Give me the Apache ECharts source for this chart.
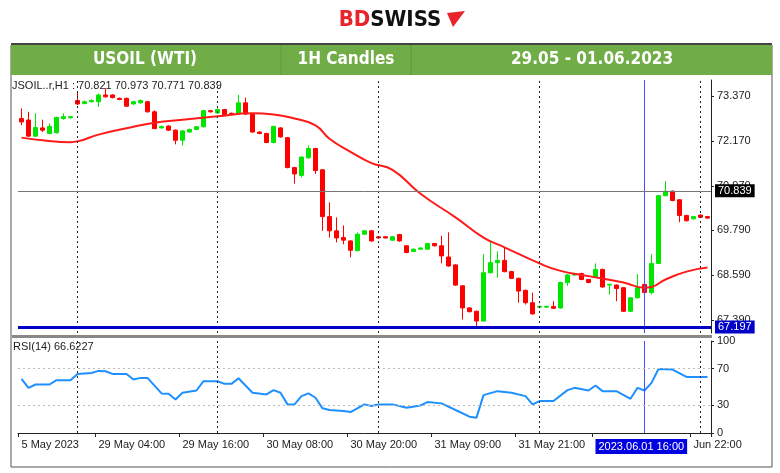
<!DOCTYPE html>
<html>
<head>
<meta charset="utf-8">
<script src="https://cdn.jsdelivr.net/npm/echarts@6/dist/echarts.min.js"></script>
<style>
  html, body { margin: 0; padding: 0; background: #fff; }
  #chart { width: 780px; height: 473px; }
</style>
</head>
<body>
<div id="chart"></div>
<script>
// USOIL H1 candles, 29.05 - 01.06.2023
const opens  = [72.77,72.73,72.30,72.52,72.37,72.39,72.77,72.79,73.25,73.17,73.22,73.22,73.40,73.40,73.31,73.31,73.16,73.19,73.22,72.95,
  72.52,72.57,72.46,72.19,72.41,72.48,72.55,72.98,72.92,73.01,72.91,72.91,73.19,72.89,72.41,72.37,72.13,72.52,72.26,71.46,
  71.25,71.72,71.97,71.40,70.15,69.77,69.59,69.50,69.24,69.68,69.77,69.61,69.61,69.52,69.67,69.37,69.22,69.28,69.28,69.43,
  69.37,69.07,68.86,68.30,67.71,67.62,67.36,68.65,68.92,68.98,68.68,68.50,68.18,67.85,67.73,67.73,67.75,67.71,68.39,68.59,
  68.63,68.47,68.54,68.74,68.32,68.32,68.25,67.62,67.98,68.34,68.12,68.90,70.71,70.83,70.60,70.18,70.09,70.19,70.15];
const closes = [72.68,72.30,72.53,72.46,72.56,72.80,72.82,72.82,73.16,73.22,73.25,73.40,73.35,73.33,73.28,73.10,73.22,73.25,72.95,72.50,
  72.56,72.46,72.19,72.44,72.48,72.55,72.98,72.95,73.01,72.87,72.88,73.19,72.89,72.41,72.37,72.13,72.56,72.28,71.46,71.29,
  71.74,71.97,71.38,70.15,69.77,69.58,69.52,69.25,69.68,69.77,69.50,69.58,69.58,69.61,69.50,69.19,69.28,69.31,69.43,69.37,
  69.10,68.83,68.32,67.71,67.61,67.36,68.65,68.92,68.98,68.68,68.50,68.16,67.85,67.55,67.75,67.75,67.70,68.39,68.59,68.63,
  68.47,68.39,68.74,68.27,68.34,68.23,67.62,67.98,68.25,68.12,68.90,70.71,70.83,70.58,70.18,70.04,70.15,70.13,70.11];
const lows   = [72.59,72.28,72.28,72.41,72.35,72.37,72.74,72.77,73.13,73.15,73.20,73.08,73.33,73.31,73.26,73.08,73.14,73.17,72.93,72.50,
  72.50,72.44,72.08,72.05,72.39,72.46,72.53,72.93,72.90,72.85,72.86,72.89,72.87,72.39,72.35,72.11,72.11,72.26,71.44,71.03,
  71.20,71.70,71.29,69.77,69.59,69.46,69.41,69.06,69.22,69.66,69.48,69.56,69.56,69.50,69.48,69.17,69.20,69.26,69.26,69.35,
  68.90,68.81,68.30,67.40,67.59,67.18,67.34,68.63,68.52,68.66,68.48,67.85,67.80,67.53,67.71,67.71,67.68,67.69,68.30,68.57,
  68.45,68.37,68.52,68.25,68.07,67.89,67.60,67.60,67.96,68.10,68.07,68.88,70.69,70.56,70.00,70.02,70.07,70.11,70.09];
const highs  = [73.04,72.95,72.91,72.74,72.64,72.82,72.91,72.84,73.49,73.25,73.28,73.44,73.58,73.42,73.33,73.33,73.24,73.28,73.24,72.99,
  72.58,72.59,72.48,72.46,72.50,72.57,73.00,73.00,73.04,73.03,72.93,73.40,73.33,72.91,72.43,72.39,72.58,72.54,72.28,71.48,
  71.76,72.05,71.99,71.42,70.53,70.13,69.91,69.52,69.73,69.79,69.79,69.63,69.63,69.63,69.69,69.39,69.30,69.33,69.45,69.45,
  69.64,69.73,68.88,68.32,67.73,67.64,69.15,69.50,69.22,69.33,68.70,68.52,68.20,68.12,67.77,67.77,67.89,68.41,68.61,68.65,
  68.65,68.49,68.90,68.76,68.36,68.34,68.27,68.00,68.61,68.36,69.15,70.73,71.10,70.85,70.62,70.20,70.17,70.21,70.17];

// moving average (red line): [candle index, price]
const maIdx = [0,3,7,8,11,16,19,23,28,33,36,39,42,44,47,50,53,57,62,66,69,74,77,81,86,89,90,92,95,98];
const maVal = [72.26,72.19,72.14,72.16,72.34,72.55,72.66,72.74,72.83,72.91,72.88,72.77,72.59,72.23,71.88,71.58,71.40,70.76,70.13,69.59,
  69.33,68.90,68.70,68.56,68.39,68.25,68.27,68.47,68.68,68.79];

// RSI(14): [candle index, value]
const rsiIdx = [0,1,2,4,5,7,8,10,11,12,13,15,16,17,18,20,21,22,23,25,26,28,29,30,31,33,35,36,37,38,39,40,41,42,43,44,46,47,49,50,
  51,53,55,57,58,60,62,64,65,66,68,70,72,73,74,76,78,79,81,82,83,85,87,88,89,90,91,93,95,97,98];
const rsiVal = [58.8,49,52.7,52.7,57.4,57.4,64.2,65.3,67.5,67.1,64.2,64.2,58.1,59.9,59.9,43,42.6,36.5,43.7,46.2,56.3,56.3,53.4,53.4,59.5,
  43.7,41.9,46.6,43.7,31.1,31.1,40.1,43,38.3,26.8,25,23.9,22.8,31.1,29.3,31.1,31.1,27.5,30,33.6,32.2,25,17.7,16.7,41.2,45.5,43.7,
  40.1,31.1,34.7,34.7,46.6,49.1,46.2,51.6,45.5,45.5,37.2,49.1,46.2,54.5,69.6,69,61,61,61];

const xLabels = {0: '5 May 2023', 11: '29 May 04:00', 23: '29 May 16:00', 35: '30 May 08:00', 47: '30 May 20:00',
  59: '31 May 09:00', 71: '31 May 21:00', 82: '{hl|2023.06.01 16:00}', 96: 'Jun 22:00'};
const dayLines = ['8', '28', '51', '74', '97'];
const cursorIdx = '89';
const priceTicks = [67.39, 68.59, 69.79, 70.97, 72.17, 73.37];
const rsiTicks = [0, 30, 70, 100];
const lastPrice = 70.839;
const lowLevel = 67.197;

const cats = opens.map((_, i) => String(i));
const candles = opens.map((o, i) => [o, closes[i], lows[i], highs[i]]);

const chart = echarts.init(document.getElementById('chart'));
const font = 'Liberation Sans, Arial, sans-serif';
const narrow = 'DejaVu Sans Condensed, Liberation Sans, Arial, sans-serif';

const vLines = dayLines.map(v => ({xAxis: v, lineStyle: {color: '#222', type: [2, 3], width: 1}}))
  .concat([{xAxis: cursorIdx, lineStyle: {color: '#4b4bff', type: 'solid', width: 1}}]);

const option = {
  animation: false,
  textStyle: {fontFamily: font},
  graphic: [
    {type: 'rect', shape: {x: 11, y: 45, width: 761, height: 422}, style: {fill: 'none', stroke: '#555', lineWidth: 1}, z: 0},
    {type: 'rect', shape: {x: 11, y: 44, width: 761, height: 31}, style: {fill: '#70ad47'}, z: 1},
    {type: 'rect', shape: {x: 11, y: 43, width: 761, height: 2}, style: {fill: '#444'}, z: 2},
    {type: 'line', shape: {x1: 281, y1: 45, x2: 281, y2: 75}, style: {stroke: '#5d9a3a', lineWidth: 1}, z: 2},
    {type: 'line', shape: {x1: 411, y1: 45, x2: 411, y2: 75}, style: {stroke: '#5d9a3a', lineWidth: 1}, z: 2},
    {type: 'text', x: 145, y: 60, style: {text: 'USOIL (WTI)', fill: '#fff', font: 'bold 17px ' + narrow, align: 'center', verticalAlign: 'middle'}, z: 3},
    {type: 'text', x: 346, y: 60, style: {text: '1H Candles', fill: '#fff', font: 'bold 17px ' + narrow, align: 'center', verticalAlign: 'middle'}, z: 3},
    {type: 'text', x: 592, y: 60, style: {text: '29.05 - 01.06.2023', fill: '#fff', font: 'bold 17px ' + narrow, align: 'center', verticalAlign: 'middle'}, z: 3},
    {type: 'text', x: 390, y: 20, style: {
      text: '{r|BD}{k|SWISS}', align: 'center', verticalAlign: 'middle',
      rich: {r: {fill: '#e8232a', font: 'bold 22px ' + narrow}, k: {fill: '#111', font: 'bold 22px ' + narrow}}}, z: 3},
    {type: 'polygon', shape: {points: [[447, 13], [465, 11], [453, 27]]}, style: {fill: '#e8232a'}, z: 3},
    {type: 'text', x: 12, y: 86, style: {text: 'JSOIL..r,H1 : 70.821 70.973 70.771 70.839', fill: '#222', font: '11px ' + font, verticalAlign: 'middle'}, z: 5},
    {type: 'text', x: 13, y: 347, style: {text: 'RSI(14) 66.6227', fill: '#222', font: '11px ' + font, verticalAlign: 'middle'}, z: 5},
    {type: 'rect', shape: {x: 12, y: 335, width: 700, height: 3}, style: {fill: '#888'}, z: 5}
  ],
  grid: [
    {left: 18, right: 69, top: 80, height: 253},
    {left: 18, right: 69, top: 341, height: 92}
  ],
  xAxis: [
    {type: 'category', gridIndex: 0, data: cats, axisLine: {show: false}, axisTick: {show: false}, axisLabel: {show: false}},
    {type: 'category', gridIndex: 1, data: cats,
      axisLine: {show: true, lineStyle: {color: '#222'}},
      axisTick: {show: true, interval: i => xLabels[i] !== undefined, length: 4, lineStyle: {color: '#222'}},
      axisLabel: {interval: 0, align: 'left', margin: 6, fontSize: 11, color: '#222',
        formatter: (v, i) => xLabels[i] || '',
        rich: {hl: {backgroundColor: '#0000e0', color: '#fff', fontSize: 11, padding: [2, 3]}}}}
  ],
  yAxis: [
    {type: 'value', gridIndex: 0, position: 'right', min: 67.04, max: 73.80, scale: true,
      axisLine: {show: true, lineStyle: {color: '#222'}},
      axisTick: {show: true, customValues: priceTicks, length: 3, lineStyle: {color: '#222'}},
      axisLabel: {customValues: priceTicks, formatter: v => v.toFixed(3), fontSize: 11, color: '#222', margin: 6},
      splitLine: {show: false}},
    {type: 'value', gridIndex: 1, position: 'right', min: 0, max: 100,
      axisLine: {show: true, lineStyle: {color: '#222'}},
      axisTick: {show: true, customValues: rsiTicks, length: 3, lineStyle: {color: '#222'}},
      axisLabel: {customValues: rsiTicks, fontSize: 11, color: '#222', margin: 6},
      splitLine: {show: false}}
  ],
  series: [
    {type: 'candlestick', xAxisIndex: 0, yAxisIndex: 0, data: candles, barWidth: 5,
      itemStyle: {color: '#00e600', color0: '#ff0000', borderColor: '#00e600', borderColor0: '#ff0000', borderWidth: 1},
      markLine: {symbol: 'none', silent: true, label: {show: false},
        data: vLines.concat([
          {yAxis: lastPrice, lineStyle: {color: '#777', type: 'solid', width: 1},
            label: {show: true, position: 'end', formatter: '70.839', backgroundColor: '#000', color: '#fff', fontSize: 11, padding: [1, 3], distance: 4}},
          {yAxis: lowLevel, lineStyle: {color: '#0000c8', type: 'solid', width: 3},
            label: {show: true, position: 'end', formatter: '67.197', backgroundColor: '#0000c8', color: '#fff', fontSize: 11, padding: [1, 3], distance: 4}}
        ])}},
    {type: 'line', xAxisIndex: 0, yAxisIndex: 0, data: maIdx.map((i, k) => [i, maVal[k]]), smooth: true,
      symbol: 'none', lineStyle: {color: '#ff1a1a', width: 2}, z: 4},
    {type: 'line', xAxisIndex: 1, yAxisIndex: 1, data: rsiIdx.map((i, k) => [i, rsiVal[k]]),
      symbol: 'none', lineStyle: {color: '#1e90ff', width: 2},
      markLine: {symbol: 'none', silent: true, label: {show: false},
        data: vLines.concat([
          {yAxis: 70, lineStyle: {color: '#bbb', type: [2, 3], width: 1}},
          {yAxis: 30, lineStyle: {color: '#bbb', type: [2, 3], width: 1}}
        ])}}
  ]
};
chart.setOption(option);
</script>
</body>
</html>
